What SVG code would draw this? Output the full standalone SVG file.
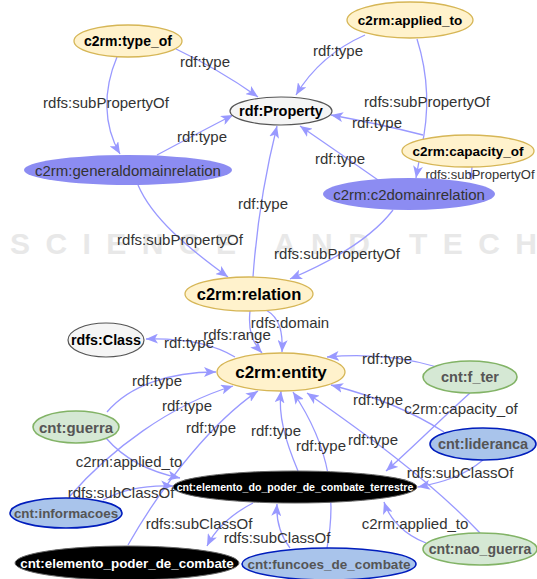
<svg xmlns="http://www.w3.org/2000/svg" width="537" height="579" viewBox="0 0 537 579">
<defs>
<marker id="arr" markerUnits="userSpaceOnUse" markerWidth="13" markerHeight="10" refX="12" refY="5" orient="auto"><path d="M0,0 L12,5 L0,10 L3,5 z" fill="#9999ff"/></marker>
<marker id="arrs" markerUnits="userSpaceOnUse" markerWidth="8" markerHeight="7" refX="7" refY="3.5" orient="auto"><path d="M0,0 L7,3.5 L0,7 z" fill="#9999ff"/></marker>
<style>
text{font-family:"Liberation Sans",Arial,sans-serif;text-anchor:middle;dominant-baseline:central}
.e path{fill:none;stroke:#9999ff;stroke-width:1.3;marker-end:url(#arr)}
.e text{font-size:15px;fill:#333}
.y ellipse{fill:#fff2cc;stroke:#d6b656;stroke-width:1.3}
.y text{font-weight:bold;fill:#000}
.g ellipse{fill:#d5e8d4;stroke:#82b366;stroke-width:1.6}
.g text{font-weight:bold;fill:#555;font-size:14.5px}
.b ellipse{fill:#a9c4eb;stroke:#001dbc;stroke-width:1.6}
.b text{font-weight:bold;fill:#555}
.w ellipse{fill:#f5f5f5;stroke:#555;stroke-width:1.2}
.w text{font-weight:bold;fill:#000}
.p ellipse{fill:#8c8cf2;stroke:none}
.p text{font-size:15px;fill:#333}
.k ellipse{fill:#000;stroke:#666;stroke-width:1}
.k text{font-weight:bold;fill:#fff}
.wm{font-size:30px;font-weight:bold;fill:#e8e8e8;text-anchor:start}
</style>
</defs>
<rect width="537" height="579" fill="#fff"/>
<g id="watermark">
<text class="wm" x="10" y="243" textLength="527" lengthAdjust="spacing">SCIENCE AND TECH</text>
</g>
<g id="connectors" class="e">
<path d="M176,49 Q220,70 258,97"/><text x="205" y="61">rdf:type</text>
<path d="M365,35 Q320,55 296,95"/><text x="338" y="50">rdf:type</text>
<path d="M117,57 C103,90 103,125 120,154"/><text x="106" y="102">rdfs:subPropertyOf</text>
<path d="M157,155 Q200,132 233,115"/><text x="202" y="136">rdf:type</text>
<path d="M417,39 C430,80 428,120 421,150 L416,178"/><text x="427" y="101">rdfs:subPropertyOf</text>
<path d="M423,135 Q380,124 331,115"/><text x="377" y="122">rdf:type</text>
<path d="M472,167 L471,180" style="marker-end:url(#arrs)"/><text x="480" y="174" style="font-size:13px">rdfs:subPropertyOf</text>
<path d="M378,180 Q335,150 300,126"/><text x="340" y="158">rdf:type</text>
<path d="M253,277 C257,220 266,170 277,126"/><text x="263" y="203">rdf:type</text>
<path d="M138,185 C152,218 188,248 228,277"/><text x="180" y="239">rdfs:subPropertyOf</text>
<path d="M393,210 C370,240 330,262 290,279"/><text x="337" y="253">rdfs:subPropertyOf</text>
<path d="M266,310 C280,318 283,332 282,352"/><text x="290" y="322">rdfs:domain</text>
<path d="M250,311 C248,330 252,342 262,353"/><text x="237" y="334">rdfs:range</text>
<path d="M235,357 C210,342 180,338 146,339"/><text x="189" y="342">rdf:type</text>
<path d="M437,367 C400,356 360,354 327,357"/><text x="387" y="358">rdf:type</text>
<path d="M107,412 C130,385 170,372 216,372"/><text x="157" y="380">rdf:type</text>
<path d="M70,496 C110,450 170,405 233,386"/><text x="187" y="405">rdf:type</text>
<path d="M128,545 C165,480 215,420 258,391"/><text x="211" y="427">rdf:type</text>
<path d="M298,471 C285,440 278,415 281,391"/><text x="276" y="430">rdf:type</text>
<path d="M327,548 C336,500 332,450 293,392"/><text x="321" y="445">rdf:type</text>
<path d="M444,432 C410,410 370,395 331,385"/><text x="378" y="399">rdf:type</text>
<path d="M480,533 C430,480 360,430 307,393"/><text x="373" y="439">rdf:type</text>
<path d="M470,393 C440,420 410,450 386,471"/><text x="461" y="408">c2rm:capacity_of</text>
<path d="M483,460 C465,475 445,482 418,487"/><text x="460" y="472">rdfs:subClassOf</text>
<path d="M426,543 C405,535 390,520 384,502"/><text x="415" y="523">c2rm:applied_to</text>
<path d="M106,438 C125,460 150,472 180,478"/><text x="129" y="461">c2rm:applied_to</text>
<path d="M103,500 C125,488 150,485 173,486"/><text x="121" y="492">rdfs:subClassOf</text>
<path d="M253,503 C230,515 215,530 207,546"/><text x="199" y="523">rdfs:subClassOf</text>
<path d="M290,548 C280,535 276,520 277,504"/><text x="277" y="537">rdfs:subClassOf</text>
</g>
<g id="type_of" class="y"><ellipse cx="128" cy="41" rx="54" ry="16"/><text x="128" y="41" style="font-size:14px">c2rm:type_of</text></g>
<g id="applied_to" class="y"><ellipse cx="410" cy="20" rx="63" ry="18"/><text x="410" y="20" style="font-size:13.5px">c2rm:applied_to</text></g>
<g id="property" class="w"><ellipse cx="281" cy="111" rx="51" ry="14"/><text x="281" y="111" style="font-size:14.5px">rdf:Property</text></g>
<g id="generaldomainrelation" class="p"><ellipse cx="128" cy="170" rx="104" ry="15"/><text x="128" y="170">c2rm:generaldomainrelation</text></g>
<g id="c2domainrelation" class="p"><ellipse cx="409" cy="194" rx="86" ry="16"/><text x="409" y="194">c2rm:c2domainrelation</text></g>
<g id="capacity_of" class="y"><ellipse cx="468" cy="151" rx="66" ry="16"/><text x="468" y="151" style="font-size:13.5px">c2rm:capacity_of</text></g>
<g id="relation" class="y"><ellipse cx="249" cy="294" rx="64" ry="17"/><text x="249" y="294" style="font-size:16.5px">c2rm:relation</text></g>
<g id="rdfs_class" class="w"><ellipse cx="106" cy="340" rx="38" ry="17"/><text x="106" y="340" style="font-size:14.3px">rdfs:Class</text></g>
<g id="entity" class="y"><ellipse cx="281" cy="372" rx="64" ry="19"/><text x="281" y="372" style="font-size:17px">c2rm:entity</text></g>
<g id="f_ter" class="g"><ellipse cx="470" cy="377" rx="47" ry="16"/><text x="470" y="377">cnt:f_ter</text></g>
<g id="guerra" class="g"><ellipse cx="76" cy="427" rx="43" ry="16"/><text x="76" y="427" style="font-size:15px">cnt:guerra</text></g>
<g id="lideranca" class="b"><ellipse cx="483" cy="444" rx="53" ry="16"/><text x="483" y="444" style="font-size:14.5px">cnt:lideranca</text></g>
<g id="terrestre" class="k"><ellipse cx="295" cy="487" rx="122" ry="16"/><text x="295" y="487" style="font-size:10.6px">cnt:elemento_do_poder_de_combate_terrestre</text></g>
<g id="informacoes" class="b"><ellipse cx="66" cy="513" rx="56" ry="15"/><text x="66" y="513" style="font-size:13.4px">cnt:informacoes</text></g>
<g id="elemento_poder" class="k"><ellipse cx="127" cy="563" rx="112" ry="17"/><text x="127" y="563" style="font-size:13.4px">cnt:elemento_poder_de_combate</text></g>
<g id="funcoes" class="b"><ellipse cx="329" cy="564" rx="87" ry="16"/><text x="329" y="564" style="font-size:13.5px">cnt:funcoes_de_combate</text></g>
<g id="nao_guerra" class="g"><ellipse cx="480" cy="549" rx="57" ry="16"/><text x="480" y="549" style="font-size:14.1px">cnt:nao_guerra</text></g>
</svg>
